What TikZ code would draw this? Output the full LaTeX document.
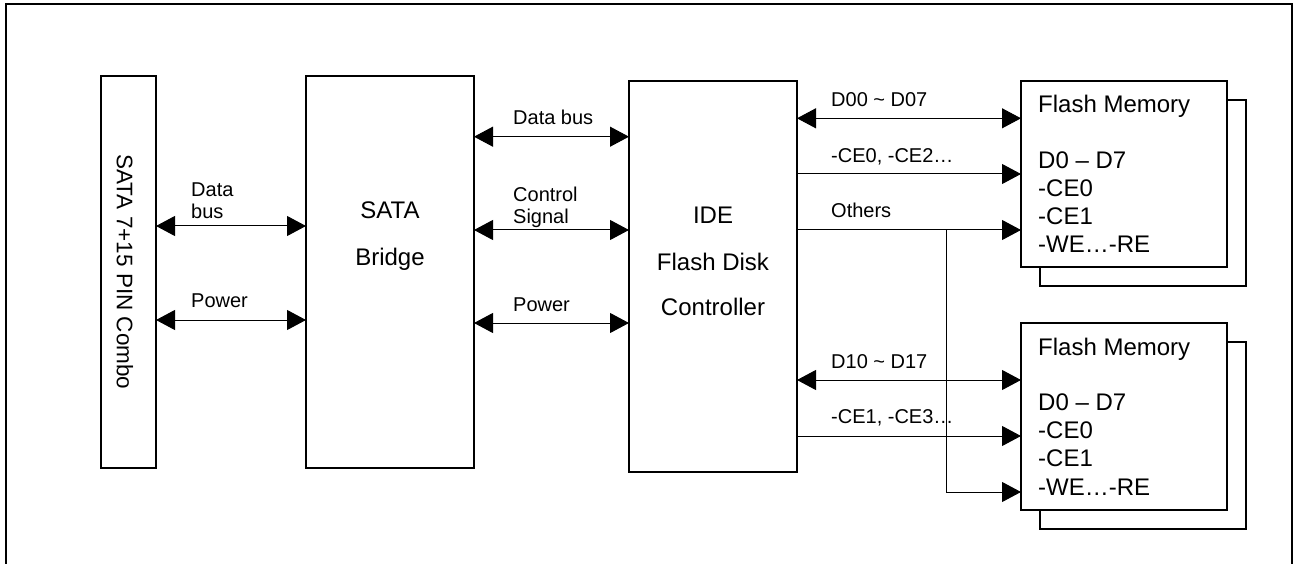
\documentclass[tikz,border=0pt]{standalone}
\usepackage{fontspec}
\setmainfont{Liberation Sans}
\usetikzlibrary{arrows.meta}
\tikzset{
  blk/.style={draw, line width=1.3pt, fill=white, inner sep=0pt, outer sep=0pt},
  shadowbox/.style={draw, line width=1.3pt, fill=white},
  big/.style={inner sep=0pt, font=\fontsize{24}{28}\selectfont},
  lbl/.style={inner sep=0pt, font=\fontsize{20}{24}\selectfont},
  dbl/.style={line width=1pt, {Triangle[length=19pt,width=20pt]}-{Triangle[length=19pt,width=20pt]}},
  sgl/.style={line width=1pt, -{Triangle[length=19pt,width=20pt]}},
  wire/.style={line width=1pt}
}
\begin{document}
\begin{tikzpicture}[x=1pt,y=-1pt]
\useasboundingbox (0,0) rectangle (1294,564);
% outer frame (open at the bottom)
\draw[line width=1.7pt] (6,566) -- (6,4) -- (1292,4) -- (1292,566);

% blocks
\node[blk, minimum width=55pt, minimum height=392pt] (combo) at (128.5,272) {};
\node[blk, minimum width=168pt, minimum height=392pt] (bridge) at (390,272) {};
\node[blk, minimum width=168pt, minimum height=391pt] (ide) at (713,276.5) {};

% flash memories with shadow
\draw[shadowbox] (1040,100) rectangle (1246,286);
\node[blk, minimum width=206pt, minimum height=186pt] (f1) at (1124,174) {};
\draw[shadowbox] (1040,342) rectangle (1246,529);
\node[blk, minimum width=206pt, minimum height=187pt] (f2) at (1124,416.5) {};

% block texts
\node[big, rotate=-90, font=\fontsize{22.5}{26}\selectfont] (combotxt) at (125,272) {SATA 7+15 PIN Combo};
\node[big, anchor=base] (sata) at (390,219) {SATA};
\node[big, anchor=base] (bridgetxt) at (390,266) {Bridge};
\node[big, anchor=base] (idetxt) at (713,224) {IDE};
\node[big, anchor=base] (fdtxt) at (713,271) {Flash Disk};
\node[big, anchor=base] (ctltxt) at (713,316) {Controller};

\node[big, anchor=base west] (fm1) at (1038,112.7) {Flash Memory};
\node[big, anchor=base west] (fa1) at (1038,169) {D0 – D7};
\node[big, anchor=base west] (fb1) at (1038,196.7) {-CE0};
\node[big, anchor=base west] (fc1) at (1038,224.3) {-CE1};
\node[big, anchor=base west] (fd1) at (1038,252.7) {-WE…-RE};

\node[big, anchor=base west] (fm2) at (1038,355) {Flash Memory};
\node[big, anchor=base west] (fa2) at (1038,410) {D0 – D7};
\node[big, anchor=base west] (fb2) at (1038,438.3) {-CE0};
\node[big, anchor=base west] (fc2) at (1038,466.7) {-CE1};
\node[big, anchor=base west] (fd2) at (1038,495) {-WE…-RE};

% combo <-> bridge
\draw[dbl] (combo.east |- 0,226) -- (bridge.west |- 0,226);
\draw[dbl] (combo.east |- 0,320) -- (bridge.west |- 0,320);
\node[lbl, anchor=base west] (l1) at (191,197) {Data};
\node[lbl, anchor=base west] (l2) at (191,219) {bus};
\node[lbl, anchor=base west] (l3) at (191,308) {Power};

% bridge <-> ide
\draw[dbl] (bridge.east |- 0,136.7) -- (ide.west |- 0,136.7);
\draw[dbl] (bridge.east |- 0,230) -- (ide.west |- 0,230);
\draw[dbl] (bridge.east |- 0,323) -- (ide.west |- 0,323);
\node[lbl, anchor=base west] (l4) at (513,125) {Data bus};
\node[lbl, anchor=base west] (l5) at (513,201.7) {Control};
\node[lbl, anchor=base west] (l6) at (513,224) {Signal};
\node[lbl, anchor=base west] (l7) at (513,312) {Power};

% ide -> flash 1
\draw[dbl] (ide.east |- 0,118.3) -- (f1.west |- 0,118.3);
\draw[sgl] (ide.east |- 0,174) -- (f1.west |- 0,174);
\draw[sgl] (ide.east |- 0,230) -- (f1.west |- 0,230);
\coordinate (br) at (946,230);
\coordinate (bc) at (946,492);
\draw[sgl] (br) -- (bc) -- (f2.west |- bc);
\node[lbl, anchor=base west] (l8) at (831,106.7) {D00 \textasciitilde{} D07};
\node[lbl, anchor=base west] (l9) at (831,162.7) {-CE0, -CE2…};
\node[lbl, anchor=base west] (l10) at (831,217.7) {Others};

% ide -> flash 2
\draw[dbl] (ide.east |- 0,380) -- (f2.west |- 0,380);
\draw[sgl] (ide.east |- 0,436) -- (f2.west |- 0,436);
\node[lbl, anchor=base west] (l11) at (831,368.3) {D10 \textasciitilde{} D17};
\node[lbl, anchor=base west] (l12) at (831,423.3) {-CE1, -CE3…};
\end{tikzpicture}
\end{document}
